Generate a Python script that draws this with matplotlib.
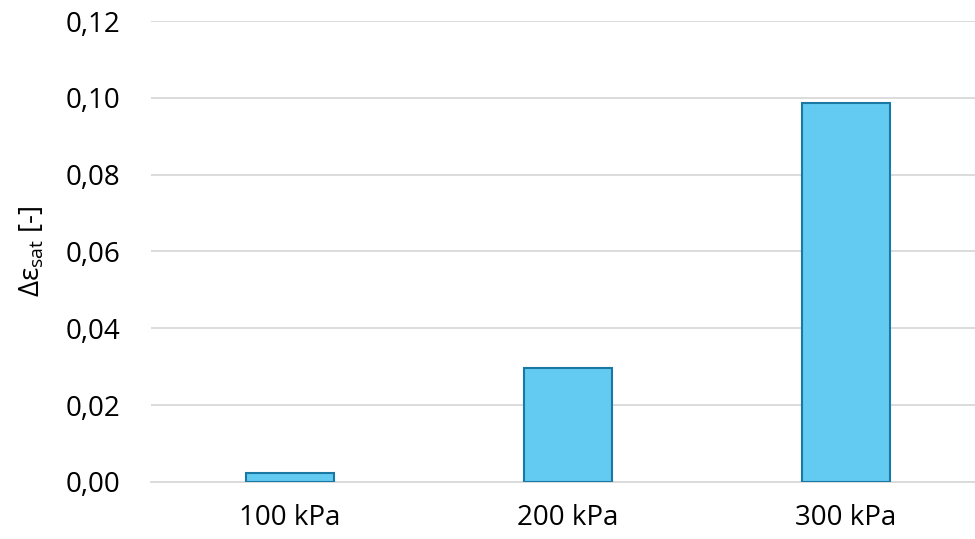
import matplotlib.pyplot as plt
from matplotlib.ticker import FuncFormatter

categories = ['100 kPa', '200 kPa', '300 kPa']
delta_eps = [0.0023, 0.0297, 0.0986]

plt.rcParams['font.family'] = ['Open Sans', 'DejaVu Sans']
plt.rcParams['mathtext.fontset'] = 'custom'
plt.rcParams['mathtext.rm'] = 'Open Sans'

fig = plt.figure(figsize=(9.75, 5.39), dpi=100)
ax = fig.add_axes([0.155, 0.106, 0.855, 0.855])

x = range(len(categories))
ax.bar(x, delta_eps, width=0.317, color='#63CBF2', edgecolor='#1A78A3', linewidth=1.5, zorder=3)

ax.set_xlim(-0.5, len(categories) - 0.5)
ax.set_ylim(0, 0.12)
ax.set_yticks([0, 0.02, 0.04, 0.06, 0.08, 0.10, 0.12])
ax.yaxis.set_major_formatter(FuncFormatter(lambda v, p: ('%.2f' % v).replace('.', ',')))
ax.set_xticks(list(x))
ax.set_xticklabels(categories)

ax.grid(axis='y', color='#D9D9D9', linewidth=1.3, zorder=0)
for s in ['top', 'right', 'left']:
    ax.spines[s].set_visible(False)
ax.spines['bottom'].set_color('#D9D9D9')
ax.spines['bottom'].set_linewidth(1.3)
ax.tick_params(axis='both', length=0, labelsize=20, colors='black')
ax.tick_params(axis='y', pad=22)
ax.tick_params(axis='x', pad=16)

ax.set_ylabel('Δε$_{\\mathrm{sat}}$ [-]', fontsize=20, labelpad=14)

fig.savefig('out.png', dpi=100)
